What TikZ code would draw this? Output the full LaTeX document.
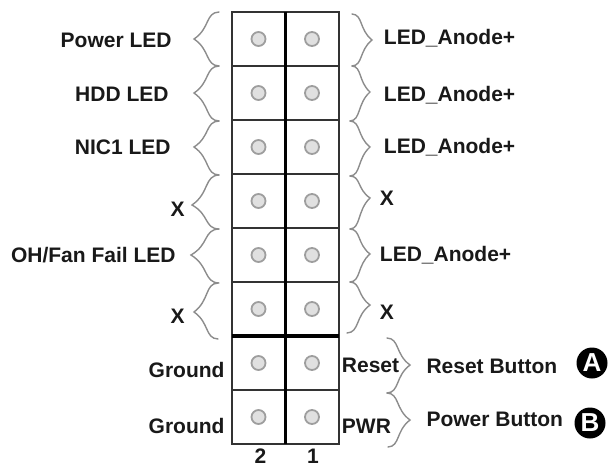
\documentclass[tikz,border=0pt]{standalone}
\usepackage{fontspec}
\setmainfont{Liberation Sans}
\usetikzlibrary{positioning}

% end (#1,#2), tip (#3,#4), end (#5,#6)
\newcommand{\curlybrace}[6]{%
  \draw[bracket] (#1,#2) .. controls ({#1+0.55*(#3-#1)},{#2+0.02*(#4-#2)}) and ({#1+0.35*(#3-#1)},{#2+0.6*(#4-#2)}) .. (#3,#4)
    .. controls ({#5+0.35*(#3-#5)},{#6+0.6*(#4-#6)}) and ({#5+0.55*(#3-#5)},{#6+0.02*(#4-#6)}) .. (#5,#6);}

\begin{document}
\begin{tikzpicture}[
    x=1pt, y=-1pt,
    node distance=0pt,
    cell/.style={rectangle, draw=black!80, line width=1.5pt, outer sep=0pt, inner sep=0pt,
                 minimum width=53.5pt, minimum height=54pt},
    pinhole/.style={circle, draw=black!38, fill=black!12, line width=1.8pt, inner sep=0pt, minimum size=14pt},
    divider/.style={line width=3.2pt, draw=black},
    bracket/.style={draw=black!45, line width=1.4pt, line cap=round},
    lbl/.style={font=\fontsize{21}{24}\selectfont\bfseries, text=black!90, inner sep=0pt,
                text height=19pt, text depth=4pt},
    badge/.style={circle, fill=black, text=white, inner sep=0pt, minimum size=31pt,
                  font=\fontsize{26}{26}\selectfont\bfseries}
]
\useasboundingbox (0,0) rectangle (615,468);

% header
\node[cell] (c1l) at (258.5,39) {};
\node[cell, right=of c1l] (c1r) {};
\foreach \r/\p in {2/1,3/2,4/3,5/4,6/5,7/6,8/7} {
  \node[cell, below=of c\p l] (c\r l) {};
  \node[cell, right=of c\r l] (c\r r) {};
}
\foreach \r in {1,...,8} {
  \node[pinhole] (p\r l) at (c\r l.center) {};
  \node[pinhole] (p\r r) at (c\r r.center) {};
}
\draw[divider] (c1l.north east) -- (c8l.south east);
\draw[divider] (c6l.south west) -- (c6r.south east);

% left side
\node[lbl, left=60pt of c1l.west, yshift=-1pt] (power) {Power LED};
\node[lbl, left=63pt of c2l.west, yshift=-1pt] (hdd) {HDD LED};
\node[lbl, left=61pt of c3l.west] (nic) {NIC1 LED};
\node[lbl, left=47pt of c4l.west, yshift=-8pt] (x4) {X};
\node[lbl, left=56pt of c5l.west, yshift=0pt] (fail) {OH/Fan Fail LED};
\node[lbl, left=47pt of c6l.west, yshift=-7pt] (x6) {X};
\node[lbl, left=7pt of c7l.west, yshift=-7pt] (gnd7) {Ground};
\node[lbl, left=7pt of c8l.west, yshift=-9pt] (gnd8) {Ground};

% right side
\node[lbl, right=45pt of c1r.east, yshift=2pt] (led1) {LED\_Anode+};
\node[lbl, right=45pt of c2r.east, yshift=-1pt] (led2) {LED\_Anode+};
\node[lbl, right=45pt of c3r.east, yshift=1pt] (led3) {LED\_Anode+};
\node[lbl, right=41pt of c4r.east, yshift=3pt] (x4r) {X};
\node[lbl, right=41pt of c5r.east, yshift=1pt] (led5) {LED\_Anode+};
\node[lbl, right=41pt of c6r.east, yshift=-3pt] (x6r) {X};
\node[lbl, right=3pt of c7r.east, yshift=-2pt] (reset) {Reset};
\node[lbl, right=3pt of c8r.east, yshift=-9pt] (pwr) {PWR};

\node[lbl, right=27pt of reset, yshift=-1pt] (resetbtn) {Reset Button};
\node[lbl, below=30pt of resetbtn.south west, anchor=north west] (powerbtn) {Power Button};
\node[badge] (a) at (592,363) {A};
\node[badge] (b) at (590,423) {B};

\node[lbl, below=0pt of c8l, xshift=2pt] (two) {2};
\node[lbl, below=0pt of c8r, xshift=1pt] (one) {1};

% braces
\curlybrace{219}{12}{194}{39}{219}{66}
\curlybrace{219}{66}{194}{93}{219}{121}
\curlybrace{219}{121}{194}{147}{219}{175}
\curlybrace{219}{175}{192}{205}{219}{229}
\curlybrace{219}{229}{191}{255}{219}{283}
\curlybrace{218}{283}{194}{312}{218}{339}
\curlybrace{352}{14}{372}{40}{352}{66}
\curlybrace{352}{66}{370}{92}{350}{121}
\curlybrace{350}{121}{370}{147}{350}{176}
\curlybrace{350}{176}{370}{198}{350}{229}
\curlybrace{350}{229}{370}{254}{350}{282}
\curlybrace{350}{282}{370}{305}{347}{333}
\curlybrace{387}{338}{410}{365}{387}{393}
\curlybrace{387}{393}{410}{420}{388}{447}
\end{tikzpicture}
\end{document}
